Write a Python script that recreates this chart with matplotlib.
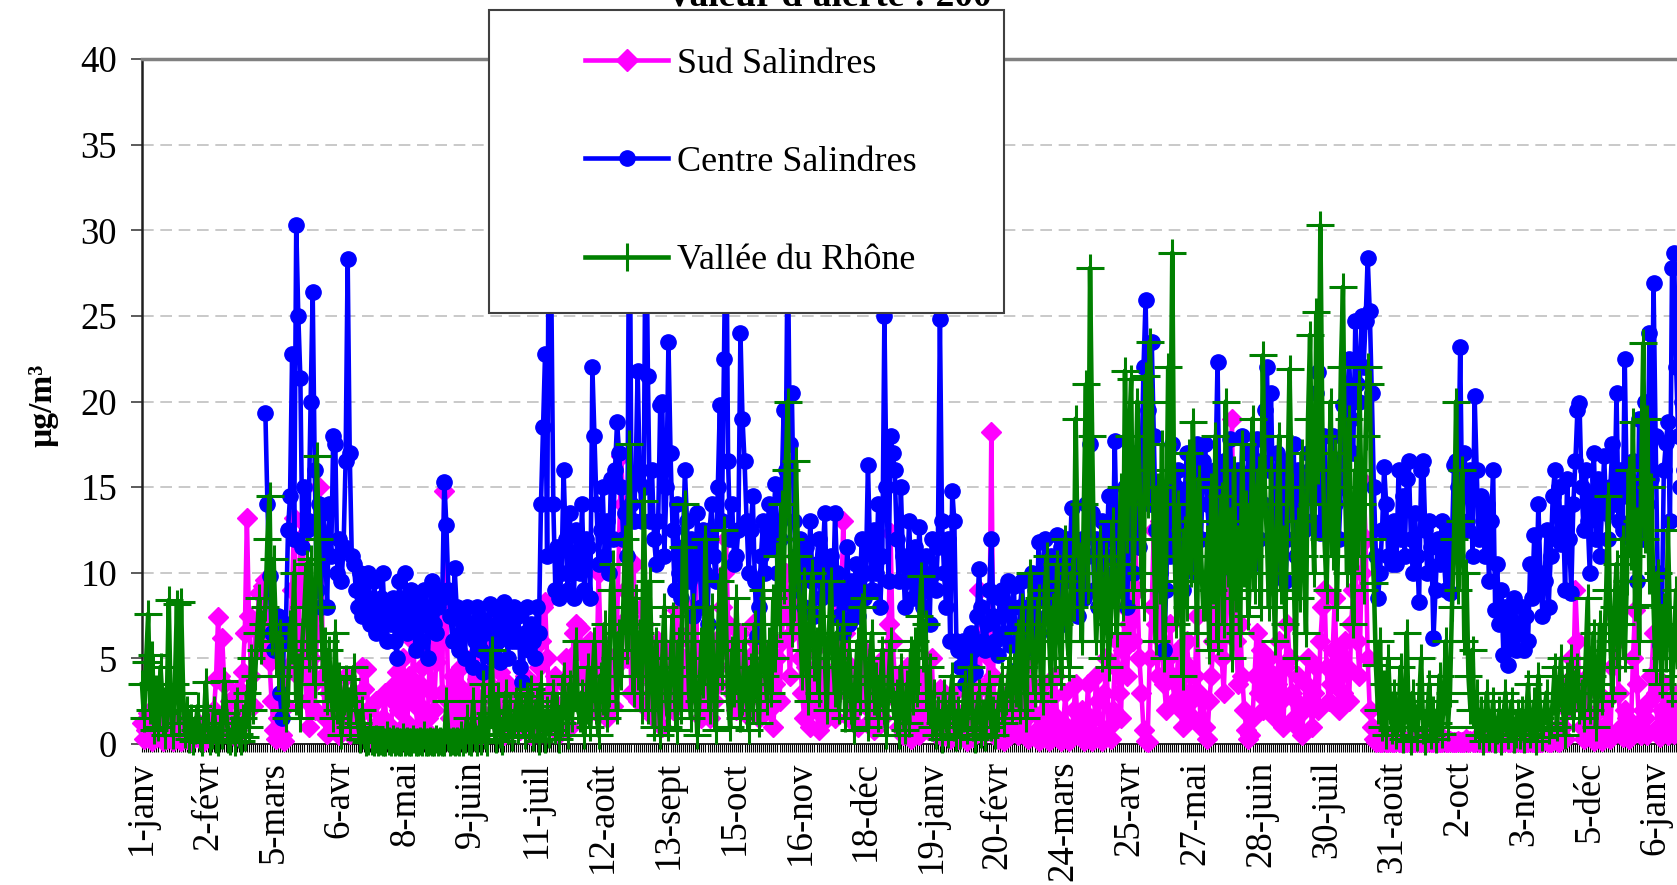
import numpy as np
import matplotlib
matplotlib.use("Agg")
import matplotlib.pyplot as plt
from matplotlib.lines import Line2D
from matplotlib.patches import Rectangle
from matplotlib.ticker import MultipleLocator

plt.rcParams["font.family"] = ["Liberation Serif", "DejaVu Serif"]

# daily means (µg/m3), one row per month, day 0 = 1 janv (leap year)
sud = [
    1.2, 0.3, 0.8, 1.8, 0.5, 0.2, 1.0, 0.4, 1.5, 0.6, 0.2, 0.9, 0.3, 1.1, 0.5, 0.2, 0.7, 1.3, 0.4, 0.2, 0.6, 1.0, 0.3, 0.5, 0.2, 0.8, 0.4, 1.2, 0.3, 0.6, 0.2,
    0.4, 0.8, 1.5, 0.5, 2.0, 3.8, 7.4, 4.0, 6.2, 3.5, 1.2, 0.6, 2.5, 1.0, 0.4, 0.8, 3.2, 1.5, 4.2, 6.5, 13.2, 7.5, 4.0, 2.2, 6.8, 7.2, 8.8, 5.5, 9.2,
    9.6, 6.0, 4.8, 2.5, 0.8, 0.3, 1.5, 3.0, 0.5, 0.2, 2.2, 4.5, 6.0, 9.0, 13.2, 7.0, 4.0, 12.0, 13.0, 8.5, 2.5, 1.0, 5.0, 3.5, 2.0, 6.5, 15.0, 12.5, 4.0, 1.5, 0.6,
    3.0, 2.0, 1.0, 3.8, 2.5, 0.5, 1.8, 2.8, 4.0, 1.2, 0.6, 2.2, 3.0, 1.5, 0.8, 2.0, 4.5, 3.2, 4.4, 2.0, 0.8, 0.3, 1.0, 2.5, 0.4, 0.2, 1.5, 3.0, 0.6, 0.3,
    1.0, 2.5, 3.5, 4.2, 2.0, 3.8, 5.0, 2.5, 1.2, 4.0, 3.0, 6.0, 2.2, 1.0, 3.5, 4.5, 2.0, 0.8, 1.5, 5.5, 3.0, 2.0, 4.8, 7.0, 6.0, 3.0, 14.8, 8.0, 2.5, 1.5, 4.0,
    2.0, 3.5, 1.0, 4.5, 2.8, 0.8, 1.5, 3.0, 5.0, 2.2, 1.0, 3.8, 2.5, 0.5, 1.8, 4.0, 3.0, 6.0, 7.0, 3.2, 1.5, 2.4, 4.2, 1.0, 0.5, 2.8, 3.5, 1.2, 0.8, 2.0,
    1.5, 3.0, 0.8, 2.5, 4.0, 1.2, 2.0, 0.5, 3.5, 2.2, 1.0, 4.5, 6.0, 8.0, 8.3, 5.0, 3.0, 1.5, 2.5, 4.0, 1.8, 0.6, 2.0, 3.5, 5.0, 2.5, 1.0, 4.2, 6.5, 7.0, 5.5,
    6.8, 4.0, 2.5, 5.5, 3.0, 6.0, 4.5, 2.0, 3.5, 10.0, 6.0, 2.5, 4.0, 1.5, 3.0, 5.0, 2.2, 4.5, 7.0, 12.0, 16.8, 14.0, 9.0, 5.0, 7.5, 3.0, 10.5, 6.0, 2.5, 4.0, 8.0,
    7.0, 4.5, 2.0, 5.0, 3.0, 1.5, 3.5, 6.0, 2.5, 1.0, 4.0, 2.2, 3.5, 5.5, 2.0, 4.5, 7.8, 6.0, 3.0, 5.0, 2.5, 4.5, 6.5, 3.5, 8.0, 10.8, 5.5, 3.0, 1.5, 2.5,
    3.0, 5.0, 1.5, 4.0, 2.5, 6.0, 3.5, 5.5, 8.0, 10.0, 12.0, 7.0, 4.5, 3.0, 5.0, 2.0, 4.0, 6.5, 3.5, 1.8, 2.5, 5.0, 4.0, 7.0, 6.0, 3.0, 1.5, 4.5, 2.5, 5.5, 3.8,
    2.0, 4.0, 1.0, 3.5, 5.0, 2.5, 6.0, 8.0, 10.0, 7.5, 4.0, 6.5, 9.0, 11.0, 7.0, 5.0, 3.0, 1.5, 4.5, 2.8, 1.0, 3.5, 5.5, 2.0, 0.8, 3.0, 4.5, 2.5, 1.5, 3.8,
    2.5, 4.0, 1.5, 3.0, 5.5, 8.0, 13.0, 6.5, 3.0, 1.5, 4.5, 2.0, 3.5, 1.0, 2.5, 4.0, 5.5, 3.0, 1.2, 2.0, 3.8, 0.8, 2.5, 4.5, 3.0, 1.5, 5.0, 3.5, 7.0, 12.3, 6.0,
    4.0, 2.5, 1.0, 3.5, 0.5, 2.0, 4.5, 1.5, 0.3, 2.8, 3.5, 1.0, 0.5, 2.0, 4.0, 1.5, 0.8, 3.0, 5.0, 2.0, 0.6, 1.5, 3.2, 0.4, 1.0, 2.5, 0.8, 0.3, 1.8, 3.0, 1.0,
    0.3, 1.0, 0.5, 2.0, 0.2, 0.8, 1.5, 0.4, 3.0, 6.0, 9.0, 2.0, 0.5, 1.2, 3.5, 5.0, 18.2, 4.0, 1.0, 0.3, 2.5, 0.8, 0.2, 1.5, 3.0, 0.5, 2.0, 4.0,
    2.5, 0.5, 1.0, 3.0, 4.5, 1.5, 0.3, 2.0, 5.0, 3.0, 0.8, 0.2, 1.5, 3.5, 2.0, 0.5, 0.2, 1.0, 2.8, 4.0, 1.5, 0.3, 0.2, 1.2, 3.0, 0.6, 0.2, 0.4, 2.0, 3.5, 1.0,
    0.5, 2.0, 0.2, 1.0, 3.5, 0.3, 0.2, 1.5, 4.0, 2.5, 0.6, 0.2, 3.0, 5.0, 1.0, 0.3, 2.0, 4.5, 6.0, 3.0, 1.5, 5.5, 8.0, 4.0, 7.0, 10.0, 6.0, 11.5, 9.0, 5.0,
    3.0, 0.8, 0.2, 0.1, 5.0, 8.0, 12.5, 7.0, 4.0, 13.0, 6.0, 3.5, 2.0, 5.0, 7.0, 4.0, 2.5, 3.5, 5.5, 2.0, 1.0, 3.0, 6.0, 4.5, 2.5, 1.5, 4.0, 7.5, 3.0, 1.0, 2.5,
    1.0, 0.3, 2.5, 4.0, 6.0, 10.0, 16.0, 8.0, 5.0, 3.0, 6.5, 9.0, 14.0, 19.0, 10.0, 6.0, 3.5, 7.0, 4.0, 2.0, 0.8, 0.3, 0.5, 1.5, 4.0, 6.5, 3.0, 5.5, 2.0, 4.5,
    3.0, 5.0, 2.0, 4.0, 1.5, 3.5, 6.0, 2.5, 1.0, 4.5, 7.0, 5.0, 3.0, 1.5, 2.5, 4.0, 0.8, 0.5, 2.0, 3.5, 5.0, 2.5, 1.0, 3.0, 4.5, 2.0, 6.0, 8.0, 9.0, 4.5, 2.5,
    3.5, 5.5, 8.5, 4.0, 2.0, 5.0, 3.0, 6.0, 4.5, 2.5, 7.0, 9.0, 12.0, 6.0, 4.0, 10.0, 15.3, 12.0, 5.0, 2.0, 1.0, 0.3, 0.1, 0.2, 0.1, 0.1, 0.3, 0.1, 0.1, 0.2, 0.1,
    0.1, 0.2, 0.1, 0.1, 0.3, 0.1, 0.1, 0.2, 0.1, 0.1, 0.1, 0.3, 0.1, 0.1, 0.2, 0.1, 0.1, 0.4, 0.1, 0.1, 0.2, 0.1, 0.1, 0.1, 0.3, 0.1, 0.1, 0.2, 0.1, 0.1,
    0.1, 0.2, 0.1, 0.1, 0.1, 0.3, 0.1, 0.2, 0.1, 0.1, 0.4, 0.1, 0.1, 0.2, 0.1, 0.1, 0.1, 0.3, 0.1, 0.1, 0.2, 0.1, 0.1, 0.1, 0.2, 0.1, 0.1, 0.3, 0.1, 0.1, 0.2,
    0.1, 0.1, 0.2, 0.1, 0.1, 0.3, 0.1, 0.1, 0.2, 0.1, 0.1, 0.1, 0.3, 0.2, 0.1, 0.1, 0.4, 0.8, 0.2, 0.1, 0.5, 1.0, 0.3, 2.0, 3.5, 5.0, 4.0, 9.0, 6.0, 2.5,
    1.0, 0.3, 2.0, 4.0, 1.5, 0.4, 0.2, 1.8, 3.0, 0.5, 0.2, 1.0, 2.5, 0.6, 0.3, 4.5, 7.5, 6.0, 3.0, 1.0, 0.4, 2.0, 1.5, 0.3, 0.8, 5.0, 7.8, 3.5, 1.2, 0.5, 2.0,
    1.5, 0.5, 2.5, 4.0, 6.5, 3.0, 1.0, 0.4, 2.0, 3.5, 1.2, 0.5, 2.5, 1.0, 0.6, 2.0, 3.0, 1.5, 0.8, 2.2,
]

centre_start = 60  # no data at Centre Salindres before 1 mars
centre = [
    19.3, 14.0, 9.8, 6.5, 5.5, 6.8, 7.5, 3.0, 1.5, 6.0, 7.0, 12.5, 14.5, 22.8, 12.0, 30.3, 25.0, 21.4, 11.5, 15.0, 12.5, 13.0, 20.0, 26.4, 16.0, 9.0, 14.0, 8.0, 13.5, 12.0, 8.0,
    14.0, 11.0, 18.0, 17.5, 10.0, 12.0, 9.5, 11.5, 16.5, 28.3, 17.0, 11.0, 10.5, 9.0, 8.0, 10.0, 7.5, 9.5, 8.5, 10.0, 7.0, 8.0, 9.5, 6.5, 7.0, 8.5, 10.0, 7.5, 6.0, 8.0,
    7.0, 8.5, 6.0, 5.0, 9.5, 8.0, 7.0, 10.0, 6.5, 7.5, 9.0, 8.0, 5.5, 7.0, 8.5, 6.0, 9.0, 7.5, 5.0, 8.0, 9.5, 7.0, 6.5, 8.0, 9.0, 8.5, 15.3, 12.8, 9.0, 7.5, 6.0,
    10.3, 8.0, 5.5, 6.5, 7.5, 5.0, 8.0, 6.5, 7.0, 4.5, 6.0, 8.0, 7.5, 5.5, 4.2, 6.5, 7.0, 8.2, 5.0, 6.5, 7.8, 6.0, 4.8, 7.0, 8.3, 6.5, 5.0, 7.5, 6.0, 8.0,
    6.0, 7.5, 4.5, 3.6, 6.5, 8.0, 5.5, 7.0, 6.0, 5.0, 8.0, 6.5, 14.0, 18.5, 22.8, 11.0, 38.0, 27.0, 14.0, 9.0, 11.5, 8.5, 10.0, 16.0, 12.0, 9.0, 13.5, 10.0, 8.5, 12.5, 11.0,
    10.0, 14.0, 9.0, 12.0, 11.5, 8.5, 22.0, 18.0, 14.0, 10.5, 12.5, 15.0, 11.0, 13.0, 10.0, 15.5, 12.0, 16.0, 18.8, 17.0, 15.0, 12.0, 13.5, 11.0, 36.0, 14.0, 13.0, 15.4, 21.8, 16.0, 13.0,
    15.0, 34.0, 21.5, 13.0, 16.0, 12.0, 10.5, 13.0, 19.8, 20.0, 11.0, 15.0, 23.5, 17.0, 12.5, 9.0, 14.0, 10.0, 8.5, 11.5, 16.0, 13.0, 9.5, 12.0, 7.5, 10.0, 13.5, 11.0, 8.0, 12.5,
    10.0, 7.0, 12.5, 14.0, 11.0, 9.5, 15.0, 19.8, 13.0, 22.5, 33.0, 16.5, 12.0, 14.0, 10.5, 11.0, 12.5, 24.0, 19.0, 16.5, 13.0, 10.0, 12.5, 14.5, 9.5, 6.3, 8.0, 11.0, 13.0, 10.0, 12.5,
    14.0, 11.5, 13.0, 15.2, 10.0, 12.0, 14.5, 19.5, 16.0, 30.0, 17.5, 20.5, 13.0, 11.0, 9.0, 12.0, 10.5, 8.0, 11.5, 10.0, 13.0, 9.5, 7.5, 10.5, 12.0, 8.5, 11.0, 13.5, 9.0, 10.0,
    11.0, 8.5, 13.5, 10.0, 7.5, 9.0, 6.5, 8.8, 11.5, 7.0, 9.5, 8.0, 10.5, 7.5, 9.0, 12.0, 8.5, 10.0, 16.3, 11.5, 9.0, 12.5, 10.0, 14.0, 8.0, 11.0, 25.0, 15.0, 9.5, 18.0, 17.0,
    16.0, 12.0, 9.5, 15.0, 11.0, 8.0, 9.5, 13.0, 10.0, 8.5, 11.5, 9.0, 12.7, 10.0, 8.0, 11.0, 9.5, 7.0, 12.0, 10.0, 9.0, 11.5, 24.8, 13.0, 10.0, 8.0, 12.0, 6.0, 14.8, 13.0, 6.0,
    5.5, 4.5, 6.0, 3.5, 5.0, 4.0, 6.5, 5.5, 4.2, 7.5, 10.2, 8.0, 6.0, 5.5, 7.0, 9.0, 12.0, 7.5, 6.0, 5.2, 8.5, 9.0, 6.5, 8.0, 9.5, 5.8, 8.0, 9.2,
    4.3, 6.0, 8.0, 9.5, 5.5, 7.5, 8.0, 6.5, 10.0, 9.0, 7.0, 11.8, 8.5, 10.0, 12.0, 7.5, 9.0, 11.0, 6.5, 10.5, 12.2, 8.0, 11.5, 7.0, 9.5, 12.0, 10.0, 13.8, 8.0, 11.0, 7.5,
    10.0, 12.0, 8.5, 14.0, 11.0, 17.5, 13.5, 9.0, 12.0, 8.0, 10.5, 13.0, 9.5, 11.0, 14.5, 12.5, 10.0, 17.7, 12.0, 9.0, 13.5, 11.0, 15.0, 8.0, 12.5, 14.5, 10.0, 17.0, 13.0, 11.5,
    16.0, 22.0, 25.9, 19.5, 14.0, 23.5, 18.0, 12.5, 15.0, 10.0, 13.5, 5.5, 9.0, 14.5, 11.0, 17.5, 12.0, 15.0, 16.0, 13.0, 9.0, 14.5, 17.0, 11.5, 13.0, 15.5, 10.0, 17.5, 14.0, 12.0, 16.5,
    17.5, 14.0, 12.0, 15.5, 11.0, 16.0, 22.3, 13.0, 11.6, 16.5, 14.0, 12.5, 17.8, 15.0, 10.0, 13.5, 16.0, 12.0, 18.0, 14.5, 11.0, 17.0, 13.0, 10.5, 15.5, 17.8, 12.0, 16.5, 14.0, 19.5,
    22.0, 16.0, 20.5, 14.0, 11.0, 17.0, 10.0, 13.5, 16.5, 9.5, 12.0, 15.0, 14.0, 17.5, 11.0, 16.0, 13.0, 15.5, 12.5, 14.5, 17.0, 16.0, 13.0, 14.5, 20.5, 21.7, 12.3, 15.0, 18.0, 14.0, 12.5,
    15.0, 18.0, 14.0, 16.5, 12.0, 15.0, 19.8, 17.0, 20.0, 22.5, 19.0, 17.0, 24.7, 21.0, 20.0, 25.0, 22.0, 24.7, 28.4, 25.3, 20.5, 15.0, 11.0, 8.5, 10.0, 12.5, 16.2, 14.0, 11.0, 12.5, 10.5,
    13.0, 10.5, 16.0, 12.0, 14.5, 11.0, 15.5, 16.5, 12.0, 10.0, 13.5, 11.0, 8.3, 16.0, 16.5, 12.5, 10.0, 13.0, 11.5, 6.2, 9.0, 12.0, 10.5, 13.0, 11.0, 9.0, 12.5, 8.8, 12.0, 16.3,
    16.5, 15.0, 23.2, 13.0, 17.0, 15.5, 12.5, 16.0, 11.0, 20.3, 16.0, 12.0, 14.5, 13.0, 11.0, 14.0, 9.5, 13.0, 16.0, 7.8, 10.5, 7.0, 9.0, 5.2, 8.0, 4.6, 7.5, 6.0, 8.5, 5.5, 7.0,
    6.5, 8.0, 5.5, 7.5, 6.0, 10.5, 8.5, 12.2, 9.0, 14.0, 10.0, 7.5, 9.5, 12.5, 8.0, 11.0, 14.5, 16.0, 12.0, 15.0, 11.7, 13.5, 9.0, 15.5, 12.0, 8.8, 14.0, 16.5, 19.5, 19.9,
    15.0, 12.5, 16.0, 13.0, 10.0, 14.5, 17.0, 12.0, 15.5, 11.0, 14.0, 16.8, 13.5, 12.0, 15.0, 17.5, 14.0, 20.5, 13.0, 16.0, 12.5, 22.5, 14.5, 15.5, 12.0, 16.5, 13.5, 9.5, 19.0, 15.0, 12.0,
    20.0, 14.0, 24.0, 15.5, 26.9, 18.0, 10.0, 5.8, 7.0, 16.0, 17.6, 18.8, 13.0, 27.8, 28.7, 22.0, 18.0, 15.0, 20.0, 16.0,
]

vallee = [
    3.5, 1.5, 4.8, 7.6, 2.0, 5.2, 0.8, 3.2, 1.0, 4.5, 2.5, 0.5, 1.8, 8.4, 2.0, 0.5, 3.5, 8.2, 1.2, 8.3, 3.0, 0.6, 2.0, 0.3, 1.5, 0.2, 0.8, 2.2, 0.4, 0.1, 1.0,
    3.6, 1.0, 0.2, 0.5, 2.0, 0.3, 0.1, 1.2, 0.5, 3.7, 1.8, 0.3, 0.2, 0.8, 0.1, 2.5, 0.6, 0.2, 1.5, 0.4, 3.0, 1.0, 5.0, 2.0, 4.0, 6.5, 8.5, 5.5, 7.0,
    8.0, 12.0, 14.5, 6.0, 10.8, 7.0, 4.0, 6.5, 5.5, 2.0, 1.5, 3.0, 7.0, 5.5, 10.0, 2.5, 4.5, 1.5, 6.0, 8.0, 10.5, 5.0, 10.8, 6.0, 3.5, 16.8, 12.0, 8.0, 4.5, 6.0, 2.5,
    5.5, 3.0, 1.5, 6.5, 2.0, 4.0, 0.5, 2.5, 3.8, 2.5, 1.0, 3.0, 4.5, 2.0, 1.2, 0.3, 2.0, 0.5, 0.1, 0.2, 1.0, 0.2, 0.1, 0.3, 0.1, 0.2, 0.1, 0.1, 0.5, 0.2,
    0.1, 0.3, 0.1, 0.2, 0.1, 0.1, 0.4, 0.1, 0.2, 0.1, 0.1, 0.3, 0.1, 0.1, 0.2, 0.1, 0.5, 0.1, 0.1, 0.2, 0.1, 0.1, 0.3, 0.1, 0.2, 0.1, 0.1, 2.5, 0.4, 0.1, 0.2,
    0.1, 0.2, 0.1, 0.5, 0.1, 0.3, 1.5, 0.2, 0.1, 2.5, 0.4, 0.1, 1.0, 0.2, 3.5, 0.5, 0.1, 1.8, 5.5, 1.2, 0.3, 2.8, 0.6, 0.2, 1.5, 3.0, 0.8, 2.0, 0.4, 1.2,
    2.5, 0.8, 3.0, 1.5, 0.5, 2.8, 1.0, 3.2, 0.4, 1.8, 2.5, 0.2, 3.5, 1.0, 0.3, 2.0, 0.6, 1.5, 3.0, 0.8, 2.2, 0.3, 1.2, 4.0, 2.0, 0.5, 3.5, 1.5, 2.8, 6.0, 2.0,
    1.5, 3.0, 0.5, 2.0, 4.5, 1.0, 3.5, 6.0, 2.0, 0.5, 4.0, 2.5, 7.0, 1.5, 3.0, 9.0, 10.5, 5.0, 2.0, 6.5, 4.0, 8.0, 12.0, 5.5, 17.5, 9.0, 3.0, 8.5, 4.0, 6.5, 2.0,
    14.2, 7.0, 2.0, 9.5, 4.0, 1.0, 6.0, 3.5, 0.5, 5.0, 8.0, 2.5, 1.0, 4.5, 7.5, 3.0, 0.8, 6.0, 2.0, 11.5, 14.0, 6.5, 3.0, 1.5, 8.0, 4.0, 0.5, 2.5, 6.0, 3.5,
    12.0, 5.0, 2.0, 8.0, 3.5, 0.8, 6.0, 9.5, 4.0, 12.5, 7.0, 2.5, 1.0, 5.5, 3.0, 8.5, 4.5, 1.5, 2.5, 6.0, 3.0, 0.8, 4.5, 2.0, 7.0, 3.5, 1.2, 5.0, 9.0, 4.0, 2.5,
    6.0, 3.0, 8.5, 5.0, 11.0, 7.0, 14.0, 9.0, 16.0, 20.0, 12.0, 6.5, 8.0, 16.5, 11.0, 7.0, 4.0, 9.5, 5.5, 2.5, 8.0, 10.0, 4.5, 6.0, 3.0, 7.5, 9.5, 5.0, 2.0, 6.5,
    9.5, 5.0, 3.0, 6.5, 2.0, 4.5, 7.0, 1.5, 3.5, 5.5, 2.0, 0.8, 4.0, 6.0, 2.5, 8.0, 8.5, 3.5, 1.0, 5.0, 6.5, 2.5, 4.0, 1.5, 3.0, 5.5, 2.0, 0.5, 3.5, 6.0, 2.5,
    1.5, 3.0, 0.5, 4.5, 2.0, 0.8, 3.5, 1.2, 5.5, 2.5, 6.0, 3.0, 7.5, 9.8, 5.0, 7.0, 2.0, 4.5, 1.0, 3.0, 0.5, 2.0, 1.2, 0.3, 3.0, 1.5, 0.6, 2.5, 4.0, 1.0, 0.4,
    2.0, 0.5, 1.5, 3.5, 0.8, 2.5, 4.5, 1.0, 0.3, 2.0, 3.0, 0.6, 1.8, 0.4, 2.5, 3.5, 1.0, 2.0, 0.5, 1.5, 3.0, 4.0, 1.2, 2.5, 3.5, 5.0, 2.0, 4.5,
    3.0, 6.5, 2.0, 8.0, 4.5, 1.5, 7.0, 10.0, 5.0, 3.0, 6.0, 8.5, 4.0, 2.5, 9.0, 11.0, 6.5, 3.5, 8.0, 5.0, 10.5, 7.0, 4.0, 9.5, 12.0, 6.0, 4.5, 10.0, 8.0, 19.0, 11.0,
    11.0, 6.0, 14.0, 21.0, 9.0, 27.8, 18.0, 10.0, 6.0, 9.0, 12.0, 5.0, 8.0, 11.0, 4.5, 7.0, 13.0, 9.0, 6.5, 10.5, 15.0, 8.0, 21.8, 12.0, 18.0, 21.3, 9.0, 14.0, 20.0, 16.0,
    10.0, 8.0, 21.5, 14.0, 23.5, 20.0, 12.0, 6.0, 15.0, 9.0, 17.5, 5.0, 11.0, 22.0, 16.0, 28.7, 12.0, 7.0, 14.0, 9.5, 4.0, 12.5, 8.0, 17.0, 10.0, 18.8, 13.0, 6.5, 15.5, 11.0, 8.0,
    8.0, 12.0, 5.5, 15.0, 9.0, 18.0, 6.0, 11.0, 14.5, 7.0, 20.0, 10.0, 13.0, 5.0, 16.0, 8.5, 12.0, 6.5, 17.5, 10.0, 14.0, 7.5, 11.0, 19.0, 9.0, 13.5, 16.0, 8.0, 22.7, 15.0,
    12.0, 8.0, 16.0, 10.0, 6.0, 14.0, 18.0, 9.0, 12.0, 7.0, 15.0, 21.9, 15.0, 10.0, 5.0, 13.0, 8.5, 17.0, 11.0, 6.5, 19.0, 23.9, 14.0, 10.0, 25.2, 16.0, 30.3, 18.0, 12.0, 9.0, 14.0,
    20.0, 11.0, 17.0, 8.0, 14.0, 22.0, 26.7, 15.0, 10.0, 19.0, 12.0, 7.0, 16.0, 11.0, 21.0, 14.0, 9.0, 18.0, 22.0, 21.0, 12.0, 9.4, 4.6, 2.0, 6.0, 1.0, 3.5, 0.5, 5.0, 2.0, 0.8,
    3.0, 0.5, 1.5, 4.5, 0.3, 2.0, 6.5, 1.0, 0.2, 3.0, 1.5, 0.4, 2.5, 5.0, 0.8, 0.2, 1.8, 3.5, 0.5, 2.0, 0.3, 1.2, 4.0, 0.6, 2.5, 6.0, 1.0, 3.0, 8.0, 12.0,
    20.0, 9.0, 13.0, 16.0, 6.0, 10.0, 4.0, 2.0, 5.5, 1.0, 3.0, 0.5, 2.0, 0.2, 1.5, 3.0, 0.4, 1.0, 2.5, 0.3, 0.8, 2.0, 0.2, 1.5, 3.0, 0.5, 1.0, 2.5, 0.3, 0.6, 1.8,
    0.5, 2.0, 0.3, 1.5, 3.5, 0.6, 1.0, 2.5, 0.2, 4.0, 1.5, 0.4, 2.0, 3.0, 0.8, 1.2, 2.5, 4.5, 1.0, 3.0, 5.0, 2.0, 0.5, 4.0, 2.5, 5.0, 1.5, 3.5, 4.5, 2.0,
    3.0, 1.5, 5.0, 8.5, 2.0, 4.0, 6.5, 1.0, 3.5, 7.0, 2.5, 5.5, 9.0, 14.5, 6.0, 3.0, 8.0, 10.5, 4.5, 7.0, 12.0, 5.0, 9.5, 16.0, 11.0, 18.8, 8.0, 13.0, 6.0, 15.5, 23.4,
    12.0, 19.0, 9.6, 15.0, 8.1, 4.3, 10.0, 6.0, 3.5, 8.0, 5.0, 12.5, 7.0, 3.0, 6.0, 9.0, 4.0, 2.5, 5.5, 7.0,
]

tick_labels = ["1-janv", "2-févr", "5-mars", "6-avr", "8-mai", "9-juin", "11-juil", "12-août",
               "13-sept", "15-oct", "16-nov", "18-déc", "19-janv", "20-févr", "24-mars", "25-avr",
               "27-mai", "28-juin", "30-juil", "31-août", "2-oct", "3-nov", "5-déc", "6-janv"]
tick_step = 32  # days between labels

W, H = 1677, 885
fig = plt.figure(figsize=(W / 100, H / 100), dpi=100)
# axes runs past the right edge of the picture, as in the original crop
ax = fig.add_axes([142 / W, 1 - 744 / H, 760 * 2.0565 / W, 685 / H])

lw = 3.3
ax.plot(np.arange(len(sud)), sud, color="#ff00ff", lw=lw, marker="D", ms=10,
        mec="#ff00ff", clip_on=False, zorder=3)
ax.plot(np.arange(len(centre)) + centre_start, centre, color="#0000ff", lw=lw,
        marker="o", ms=11, clip_on=False, zorder=4)
ax.plot(np.arange(len(vallee)), vallee, color="#008000", lw=lw, marker="+",
        ms=20, mew=2.2, clip_on=False, zorder=5)

ax.set_xlim(0, 760)
ax.set_ylim(0, 40)
ax.set_yticks(range(0, 41, 5))
ax.set_xticks(np.arange(len(tick_labels)) * tick_step)
ax.set_xticklabels(tick_labels, rotation=90, va="top")
ax.xaxis.set_minor_locator(MultipleLocator(1))
ax.tick_params(axis="x", which="both", direction="out", length=6, width=0.8,
               color="black", labelsize=26.5, pad=6)
ax.tick_params(axis="y", direction="out", length=8, width=1.2, color="#404040",
               labelsize=26.5, pad=10)

for v in range(5, 40, 5):
    ax.axhline(v, color="#c0c0c0", lw=1.2, dashes=(7, 4), zorder=1)

ax.spines["right"].set_visible(False)
ax.spines["top"].set_color("#808080")
ax.spines["top"].set_linewidth(2.5)
ax.spines["left"].set_color("#202020")
ax.spines["left"].set_linewidth(1.8)
ax.spines["bottom"].set_linewidth(1.2)

fig.text(43 / W, 1 - 405 / H, "µg/m³", rotation=90, ha="center", va="center",
         fontsize=24, fontweight="bold")
fig.text(829 / W, 1 - 5 / H, "Valeur d'alerte : 200", ha="center", va="baseline",
         fontsize=27, fontweight="bold")

# legend box over the plot
box = Rectangle((489 / W, 1 - 313 / H), (1004 - 489) / W, 303 / H,
                transform=fig.transFigure, facecolor="white",
                edgecolor="#404040", lw=1.5, zorder=1)
fig.add_artist(box)
handles = [
    Line2D([], [], color="#ff00ff", lw=lw, marker="D", ms=11),
    Line2D([], [], color="#0000ff", lw=lw, marker="o", ms=11),
    Line2D([], [], color="#008000", lw=lw, marker="+", ms=20, mew=2.2),
]
fig.legend(handles, ["Sud Salindres", "Centre Salindres", "Vallée du Rhône"],
           loc="upper left", bbox_to_anchor=(585 / W, 1 - 47.5 / H),
           bbox_transform=fig.transFigure, frameon=False, fontsize=26,
           handlelength=2.3, handletextpad=0.25, labelspacing=1.8,
           borderpad=0, borderaxespad=0, numpoints=1)

fig.savefig("out.png", dpi=100)
